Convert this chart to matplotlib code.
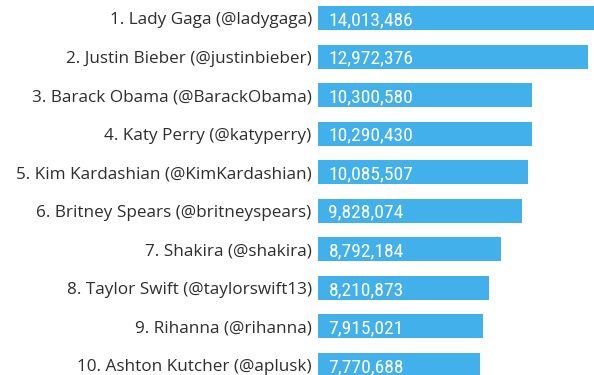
import matplotlib
matplotlib.use("Agg")
import matplotlib.pyplot as plt
from matplotlib import font_manager

# Most-followed Twitter accounts
names = [
    "1. Lady Gaga (@ladygaga)",
    "2. Justin Bieber (@justinbieber)",
    "3. Barack Obama (@BarackObama)",
    "4. Katy Perry (@katyperry)",
    "5. Kim Kardashian (@KimKardashian)",
    "6. Britney Spears (@britneyspears)",
    "7. Shakira (@shakira)",
    "8. Taylor Swift (@taylorswift13)",
    "9. Rihanna (@rihanna)",
    "10. Ashton Kutcher (@aplusk)",
]
followers = [14013486, 12972376, 10300580, 10290430, 10085507,
             9828074, 8792184, 8210873, 7915021, 7770688]

available = {f.name for f in font_manager.fontManager.ttflist}


def pick(candidates):
    for c in candidates:
        if c in available:
            return c
    return "DejaVu Sans"


label_font = pick(["Open Sans", "Noto Sans", "Lato", "DejaVu Sans"])
number_font = pick(["Liberation Sans Narrow", "Roboto Condensed",
                    "Open Sans Condensed", "DejaVu Sans"])

W, H = 594, 375
fig = plt.figure(figsize=(W / 100, H / 100), dpi=100)
fig.patch.set_facecolor("white")

# plot area starts at the bar baseline and runs off the right edge
x0 = 318
px_per_follower = 20.8e-6
ax = fig.add_axes([x0 / W, 0, (W - x0) / W, 1])
ax.set_xlim(0, (W - x0) / px_per_follower)

row = 38.55
top = 18
ax.set_ylim((H - top) / row, -top / row)

bar_color = "#42b0ea"
ypos = list(range(len(names)))
ax.barh(ypos, followers, height=24 / row, color=bar_color, edgecolor="none")

ax.set_yticks(ypos)
ax.set_yticklabels(names, fontsize=12.3, color="#2e2e2e", family=label_font)
ax.tick_params(axis="y", length=0, pad=4.5)
ax.set_xticks([])
for s in ax.spines.values():
    s.set_visible(False)

for y, v in zip(ypos, followers):
    ax.annotate(f"{v:,}", xy=(0, y), xytext=(7.5, -1.5), textcoords="offset points",
                ha="left", va="center", color="white", fontsize=14,
                family=number_font)

fig.savefig("out.png", dpi=100, facecolor="white")
